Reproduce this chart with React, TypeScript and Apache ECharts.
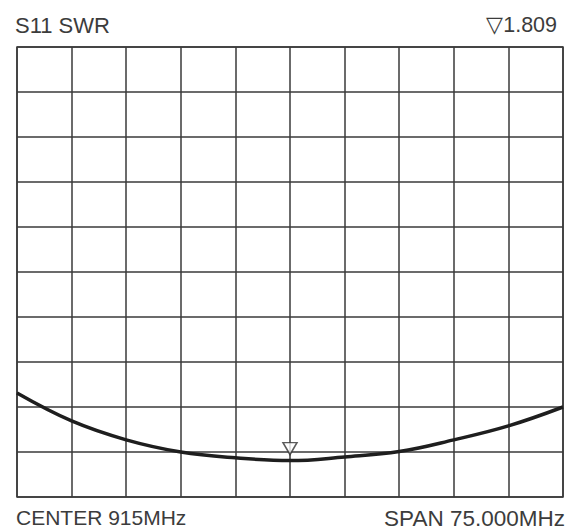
import React, { useEffect, useRef } from "react";
import * as echarts from "echarts";

const freqMHz = [877.5, 885, 892.5, 900, 907.5, 915, 922.5, 930, 937.5, 945, 952.5];
const swr = [3.31, 2.69, 2.27, 2.0, 1.87, 1.809, 1.89, 2.01, 2.27, 2.58, 3.0];
const markerFreq = 915;
const markerValue = 1.809;
const titleText = "S11 SWR";
const markerText = "▽1.809";
const centerText = "CENTER 915MHz";
const spanText = "SPAN 75.000MHz";

export default function App() {
  const ref = useRef<HTMLDivElement>(null);
  useEffect(() => {
    const chart = echarts.init(ref.current!, null, { renderer: "svg" });
    const font = "'Liberation Sans', Arial, sans-serif";
    chart.setOption({
      animation: false,
      backgroundColor: "#ffffff",
      grid: {
        left: 17,
        right: 4,
        top: 47,
        bottom: 35,
        show: true,
        borderColor: "#3a3a3a",
        borderWidth: 1.5,
        backgroundColor: "transparent",
      },
      xAxis: {
        type: "value",
        min: 877.5,
        max: 952.5,
        interval: 7.5,
        axisLabel: { show: false },
        axisTick: { show: false },
        axisLine: { show: false },
        splitLine: { show: true, lineStyle: { color: "#3a3a3a", width: 1.5 } },
      },
      yAxis: {
        type: "value",
        min: 1,
        max: 11,
        interval: 1,
        axisLabel: { show: false },
        axisTick: { show: false },
        axisLine: { show: false },
        splitLine: { show: true, lineStyle: { color: "#3a3a3a", width: 1.5 } },
      },
      series: [
        {
          type: "line",
          data: freqMHz.map((f, i) => [f, swr[i]]),
          smooth: 0.4,
          showSymbol: false,
          lineStyle: { color: "#1e1e1e", width: 3.5 },
        },
        {
          type: "scatter",
          data: [[markerFreq, markerValue]],
          symbol: "triangle",
          symbolRotate: 180,
          symbolSize: [14, 12],
          symbolOffset: [0, -12],
          itemStyle: { color: "#ffffff", borderColor: "#333333", borderWidth: 1.5 },
          z: 5,
        },
      ],
      graphic: [
        {
          type: "text",
          left: 15,
          top: 14,
          style: { text: titleText, font: `500 22px ${font}`, fill: "#3c3c3c" },
        },
        {
          type: "text",
          right: 10,
          top: 14,
          style: { text: markerText, font: `500 21.5px ${font}`, fill: "#3c3c3c" },
        },
        {
          type: "text",
          left: 16,
          top: 507,
          style: { text: centerText, font: `21px ${font}`, fill: "#3c3c3c" },
        },
        {
          type: "text",
          right: 2,
          top: 507,
          style: { text: spanText, font: `22.5px ${font}`, fill: "#3c3c3c" },
        },
      ],
    });
    return () => chart.dispose();
  }, []);
  return (
    <div
      ref={ref}
      style={{ position: "fixed", left: 0, top: 0, width: 567, height: 532 }}
    />
  );
}
